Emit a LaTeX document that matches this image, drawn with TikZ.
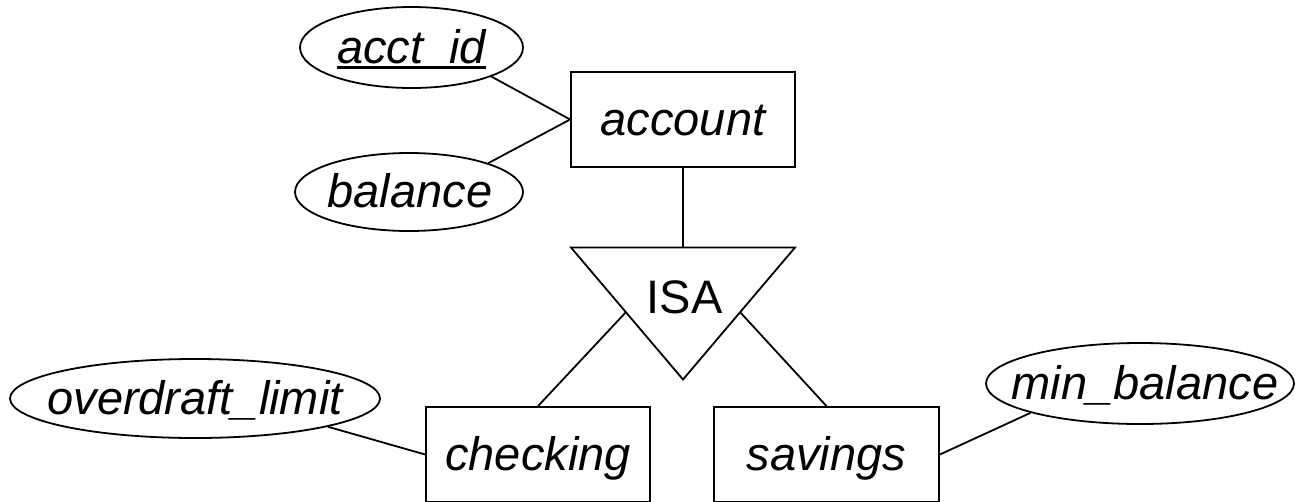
\documentclass[tikz,border=0pt]{standalone}
\usepackage{fontspec}
\setmainfont{Liberation Sans}
\usetikzlibrary{shapes.geometric,calc}
\newcommand\lbl[2][0pt]{\raisebox{-15.5pt}[0pt][0pt]{\makebox[0pt]{\hspace*{#1}#2}}}
\newcommand\ulkey[1]{\setbox0\hbox{#1}\rlap{\rule[-6pt]{\wd0}{3pt}}\box0}
\begin{document}
\begin{tikzpicture}[x=1pt,y=-1pt,line width=1.8pt,
  attr/.style={draw,ellipse,inner sep=0pt,minimum height=80pt,font=\fontsize{47}{52}\selectfont\itshape},
  ent/.style={draw,rectangle,inner sep=0pt,minimum width=224pt,minimum height=95pt,font=\fontsize{47}{52}\selectfont\itshape},
  isatext/.style={inner sep=0pt,font=\fontsize{47}{52}\selectfont},
  conn/.style={line width=1.8pt}]
\useasboundingbox (0,0) rectangle (1296,501);
\clip (0,0) rectangle (1296,501);
% entities
\node[ent] (account) at (683,119.5) {\lbl{account}};
\node[ent] (checking) at (538,454.5) {\lbl{checking}};
\node[ent,minimum width=225pt] (savings) at (826.5,454.5) {\lbl{savings}};
% attributes
\node[attr,minimum width=223pt,minimum height=81pt] (acct) at (411.5,47.5) {\lbl{\ulkey{acct\_id}}};
\node[attr,minimum width=228pt,minimum height=78pt] (bal) at (409,192) {\lbl[2pt]{balance}};
\node[attr,minimum width=370pt,minimum height=79pt] (od) at (195,398.5) {\lbl{overdraft\_limit}};
\node[attr,minimum width=308pt,minimum height=81pt] (minb) at (1140,383.5) {\lbl[10pt]{min\_balance}};
% ISA triangle
\coordinate (tl) at (571,247.5);
\coordinate (tr) at (795,247.5);
\coordinate (tb) at (683,379.5);
\draw[line join=miter] (tl) -- (tr) -- (tb) -- cycle;
\node[isatext,anchor=base] (isa) at (684.5,313.5) {ISA};
\coordinate (isatop) at (683,247.5);
\coordinate (isal) at ($(tl)!0.49!(tb)$);
\coordinate (isar) at ($(tr)!0.49!(tb)$);
% connectors
\draw[conn] (acct.-20) -- (account.west);
\draw[conn] (bal.20) -- (account.west);
\draw[conn] (account.south) -- (isatop);
\draw[conn] (isal) -- (checking.north);
\draw[conn] (isar) -- (savings.north);
\draw[conn] (od.-12) -- (checking.west);
\draw[conn] (savings.east) -- (minb.195);
\end{tikzpicture}
\end{document}
